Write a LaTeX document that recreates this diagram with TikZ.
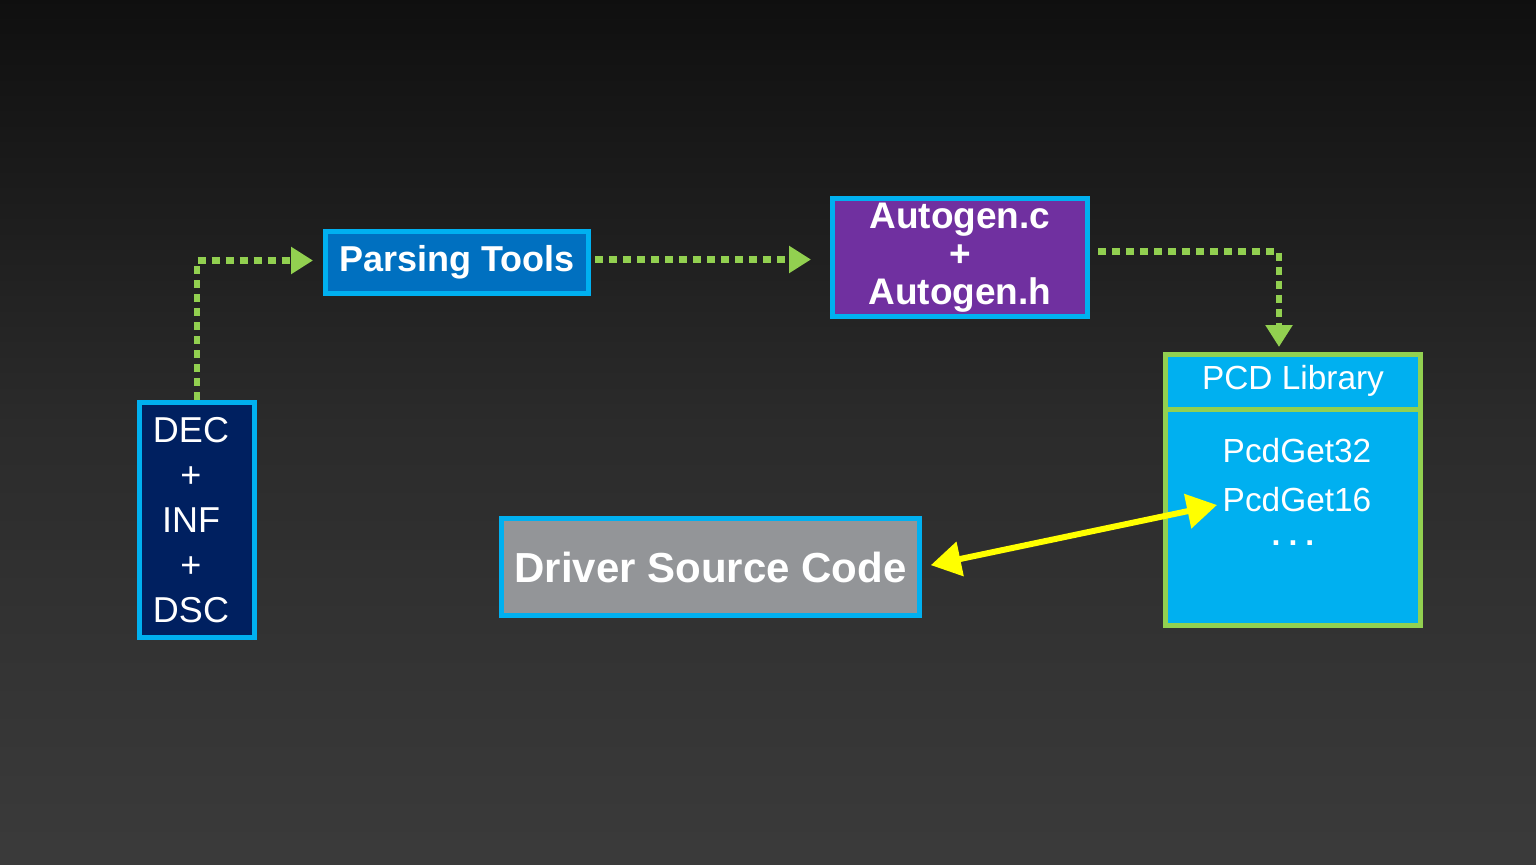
\documentclass[tikz,border=0pt]{standalone}
\usepackage{fontspec}
\setmainfont{Liberation Sans}
\usetikzlibrary{arrows.meta}
\definecolor{cyanb}{HTML}{00B0F0}
\definecolor{navyf}{HTML}{002060}
\definecolor{bluef}{HTML}{0070C0}
\definecolor{purplef}{HTML}{7030A0}
\definecolor{greenl}{HTML}{92D050}
\definecolor{grayf}{HTML}{939598}
\definecolor{yell}{HTML}{FFFF00}
\begin{document}
\begin{tikzpicture}[x=0.5pt,y=0.5pt,
  box/.style={draw=cyanb, line width=2.5pt, text=white, inner sep=0pt, align=center},
  garrow/.style={draw=greenl, line width=3.25pt, dash pattern=on 4pt off 3pt,
    -{Triangle[length=11pt,width=13pt,fill=greenl]}},
  yarrow/.style={draw=yell, line width=3pt,
    {Triangle[length=15pt,width=17pt]}-{Triangle[length=15pt,width=17pt]}},
  lbl/.style={text=white, inner sep=0pt}]
\shade[top color=black!94, bottom color=black!77, middle color=black!83] (0,0) rectangle (1536,864);
\useasboundingbox (0,0) rectangle (1536,864);
% nodes
\node[box, fill=navyf, minimum width=57.5pt, minimum height=117.5pt,
  font=\fontsize{18}{22.5}\selectfont] (dec) at (197,344)
  {DEC\rule{6pt}{0pt}\\+\rule{6pt}{0pt}\\INF\rule{6pt}{0pt}\\+\rule{6pt}{0pt}\\DSC\rule{6pt}{0pt}};
\node[box, fill=bluef, minimum width=131.5pt, minimum height=31pt,
  font=\fontsize{18}{22}\selectfont\bfseries] (parse) at (457,601.5) {Parsing Tools};
\node[box, fill=purplef, minimum width=127.5pt, minimum height=59pt,
  font=\fontsize{18.5}{19}\selectfont\bfseries] (auto) at (960,606.5) {Autogen.c\\+\\Autogen.h};
\node[box, draw=greenl, fill=cyanb, minimum width=127.5pt, minimum height=135.5pt] (pcd) at (1293,374) {};
\draw[greenl, line width=2.5pt] (pcd.north west |- 0,455) -- (pcd.north east |- 0,455);
\node[lbl, font=\fontsize{16.7}{20}\selectfont] (pcdh) at (1293,483) {PCD Library};
\node[lbl, font=\fontsize{16.7}{20}\selectfont] (g32) at (1297,413) {PcdGet32};
\node[lbl, font=\fontsize{16.7}{20}\selectfont] (g16) at (1297,364) {PcdGet16};
\node[lbl, font=\fontsize{16}{18}\selectfont\bfseries, anchor=base] (dots) at (1293,319) {.\hspace{4pt}.\hspace{4pt}.};
\node[box, fill=grayf, minimum width=209pt, minimum height=48.5pt,
  font=\fontsize{21}{24}\selectfont\bfseries] (drv) at (710.5,297) {Driver Source Code};
\coordinate (pcdin) at (1217,359);
% connectors
\draw[garrow, shorten >=5pt] (dec.north) |- ([yshift=1pt]parse.west);
\draw[garrow, shorten <=2pt, shorten >=9.5pt] ([yshift=1.5pt]parse.east) -- ([yshift=1.5pt]parse.east -| auto.west);
\draw[garrow, shorten <=4pt, shorten >=2.5pt] ([yshift=3pt]auto.east) -| ([xshift=-7pt]pcd.north);
\draw[yarrow, shorten <=4.5pt] (drv.east) -- (pcdin);
\end{tikzpicture}
\end{document}
